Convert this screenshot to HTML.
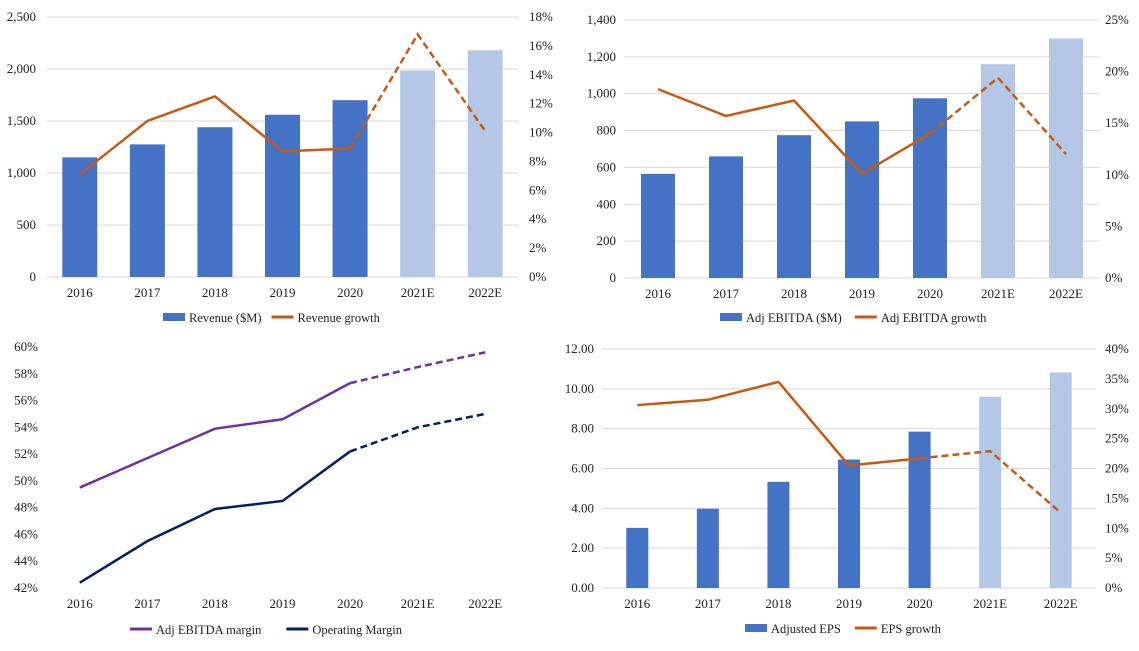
<!DOCTYPE html>
<html><head><meta charset="utf-8"><style>
body{margin:0;background:#fff;width:1139px;height:646px;overflow:hidden}
svg text{font-family:"Liberation Serif",serif;font-size:13px;fill:#222}
svg text.lg{font-size:12.5px}
</style></head><body>
<svg id="s" width="1139" height="646"></svg>
<script>
const cats=["2016","2017","2018","2019","2020","2021E","2022E"];
const revenue=[1150,1275,1440,1560,1700,1985,2180];
const revenueGrowth=[7.1,10.8,12.5,8.7,8.9,16.8,10.1];
const ebitda=[565,660,775,850,975,1160,1300];
const ebitdaGrowth=[18.3,15.7,17.2,10.1,14.0,19.4,12.0];
const ebitdaMargin=[49.5,51.7,53.9,54.6,57.3,58.5,59.6];
const opMargin=[42.4,45.5,47.9,48.5,52.2,54.0,55.0];
const eps=[3.02,3.98,5.33,6.45,7.85,9.6,10.82];
const epsGrowth=[30.6,31.5,34.5,20.5,21.7,22.9,12.6];
const revTicks=["0","500","1,000","1,500","2,000","2,500"];
const revPct=["0%","2%","4%","6%","8%","10%","12%","14%","16%","18%"];
const ebTicks=["0","200","400","600","800","1,000","1,200","1,400"];
const ebPct=["0%","5%","10%","15%","20%","25%"];
const mTicks=["42%","44%","46%","48%","50%","52%","54%","56%","58%","60%"];
const epsTicks=["0.00","2.00","4.00","6.00","8.00","10.00","12.00"];
const epsPct=["0%","5%","10%","15%","20%","25%","30%","35%","40%"];

const S=document.getElementById('s'),NS='http://www.w3.org/2000/svg';
function el(t,a,p){const e=document.createElementNS(NS,t);for(const k in a)e.setAttribute(k,a[k]);(p||S).appendChild(e);return e;}
function txt(x,y,s,anchor){const t=el('text',{x:x,y:y,'text-anchor':anchor||'start'});t.textContent=s;return t;}

function chart(o){
  const g=el('g',{});
  
  
  const n=cats.length,step=(o.x1-o.x0)/n;
  const cx=i=>o.x0+step*(i+0.5);
  const yl=v=>o.yb-(v-o.lmin)/(o.lmax-o.lmin)*(o.yb-o.yt);
  const yr=v=>o.yb-(v-o.rmin)/(o.rmax-o.rmin)*(o.yb-o.yt);
  const nt=o.lticks.length;
  o.lticks.forEach((t,i)=>{const y=o.yb-(o.yb-o.yt)*i/(nt-1);
    if(o.grid){const l=el('line',{x1:o.x0,x2:o.x1,y1:y,y2:y,stroke:'#d9d9d9','stroke-width':1},g);}
    const tt=txt(o.lx,y+4,t,'end');g.appendChild(tt);});
  if(o.rticks){const m=o.rticks.length;o.rticks.forEach((t,i)=>{const y=o.yb-(o.yb-o.yt)*i/(m-1);
    const tt=txt(o.rx,y+4,t,'start');g.appendChild(tt);});}
  cats.forEach((c,i)=>{const tt=txt(cx(i),o.yb+20,c,'middle');g.appendChild(tt);});
  if(o.bars){o.bars.forEach((v,i)=>{const r=el('rect',{x:cx(i)-o.bw/2,y:yl(v),width:o.bw,height:o.yb-yl(v),fill:i>=5?'#b4c7e7':'#4472c4'},g);
    });}
  o.lines.forEach(L=>{const yf=L.axis==='r'?yr:yl;
    const p1=L.vals.slice(0,5).map((v,i)=>cx(i)+','+yf(v)).join(' ');
    const p2=L.vals.slice(4).map((v,i)=>cx(i+4)+','+yf(v)).join(' ');
    const a=el('polyline',{points:p1,fill:'none',stroke:L.color,'stroke-width':2.5},g);
    const b=el('polyline',{points:p2,fill:'none',stroke:L.color,'stroke-width':2.5,'stroke-dasharray':'7,4'},g);});
  let lx=o.legendX;
  o.legend.forEach(L=>{
    let m;
    if(L.type==='bar')m=el('rect',{x:lx,y:o.ly-5,width:22,height:8,fill:'#4472c4'},g);
    else m=el('line',{x1:lx,x2:lx+22,y1:o.ly-1,y2:o.ly-1,stroke:L.color,'stroke-width':3},g);
    
    const tt=txt(lx+26,o.ly+4,L.label);tt.setAttribute('class','lg');g.appendChild(tt);
    lx=lx+26+tt.getComputedTextLength()+o.gap;});
}
chart({name:'revenue-chart',x0:46,x1:519,yt:17,yb:277,lmin:0,lmax:2500,rmin:0,rmax:18,lticks:revTicks,rticks:revPct,lx:36,rx:529,grid:true,bars:revenue,bw:35,
  lines:[{vals:revenueGrowth,axis:'r',color:'#c55a11',name:'revenue-growth-line'}],ly:318,legendX:163,gap:10,
  legend:[{type:'bar',label:'Revenue ($M)'},{type:'line',color:'#c55a11',label:'Revenue growth'}]});
chart({name:'ebitda-chart',x0:624,x1:1100,yt:20,yb:278,lmin:0,lmax:1400,rmin:0,rmax:25,lticks:ebTicks,rticks:ebPct,lx:616,rx:1105,grid:true,bars:ebitda,bw:34,
  lines:[{vals:ebitdaGrowth,axis:'r',color:'#c55a11',name:'ebitda-growth-line'}],ly:318,legendX:720,gap:13,
  legend:[{type:'bar',label:'Adj EBITDA ($M)'},{type:'line',color:'#c55a11',label:'Adj EBITDA growth'}]});
chart({name:'margin-chart',x0:46,x1:519,yt:347,yb:588,lmin:42,lmax:60,lticks:mTicks,lx:38,grid:false,
  lines:[{vals:ebitdaMargin,axis:'l',color:'#7030a0',name:'ebitda-margin-line'},{vals:opMargin,axis:'l',color:'#002060',name:'operating-margin-line'}],ly:630,legendX:130,gap:25,
  legend:[{type:'line',color:'#7030a0',label:'Adj EBITDA margin'},{type:'line',color:'#002060',label:'Operating Margin'}]});
chart({name:'eps-chart',x0:602,x1:1096,yt:349,yb:588,lmin:0,lmax:12,rmin:0,rmax:40,lticks:epsTicks,rticks:epsPct,lx:594,rx:1105,grid:true,bars:eps,bw:22,
  lines:[{vals:epsGrowth,axis:'r',color:'#c55a11',name:'eps-growth-line'}],ly:629,legendX:745,gap:14,
  legend:[{type:'bar',label:'Adjusted EPS'},{type:'line',color:'#c55a11',label:'EPS growth'}]});
</script>
</body></html>
